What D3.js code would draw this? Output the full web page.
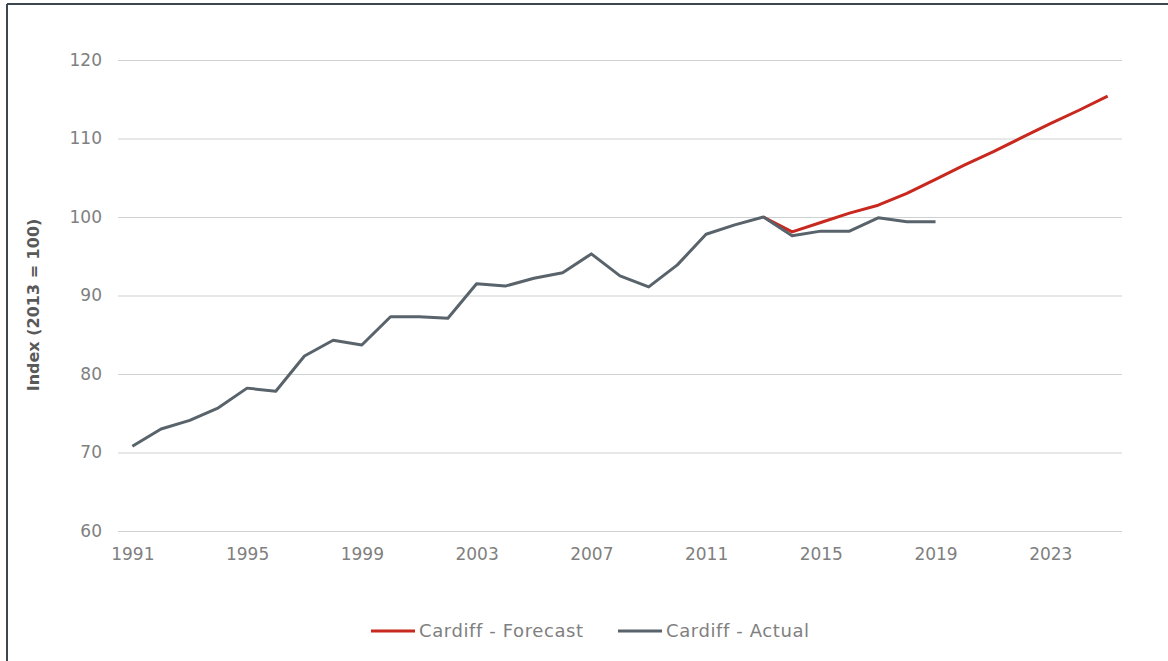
<!DOCTYPE html>
<html>
<head>
<meta charset="utf-8">
<script src="https://cdn.jsdelivr.net/npm/d3@7"></script>
<style>
    body { margin: 0; background: #fff; }
    svg { display: block; }
    .tick text { font-family: "DejaVu Sans", sans-serif; fill: #808080; }
</style>
</head>
<body>
<script>
(function(){    // wrapper

// Chart data
var years = ["1991","1992","1993","1994","1995","1996","1997","1998","1999","2000",
             "2001","2002","2003","2004","2005","2006","2007","2008","2009","2010",
             "2011","2012","2013","2014","2015","2016","2017","2018","2019","2020",
             "2021","2022","2023","2024","2025"];
var actualValues = [70.8, 73.0, 74.1, 75.7, 78.2, 77.8, 82.3, 84.3, 83.7, 87.3,
                    87.3, 87.1, 91.5, 91.2, 92.2, 92.9, 95.3, 92.5, 91.1, 93.9,
                    97.8, 99.0, 100.0, 97.6, 98.2, 98.2, 99.9, 99.4, 99.4];
var forecastYears = ["2013","2014","2015","2016","2017","2018","2019","2020","2021","2022","2023","2024","2025"];
var forecastValues = [100.0, 98.1, 99.3, 100.5, 101.5, 103.0, 104.8, 106.6, 108.3, 110.1, 111.9, 113.6, 115.4];
var yTicks = [60, 70, 80, 90, 100, 110, 120];
var xTickLabels = ["1991","1995","1999","2003","2007","2011","2015","2019","2023"];
var seriesNames = ["Cardiff - Forecast", "Cardiff - Actual"];
var seriesColors = ["#c8281e", "#59636b"];

window.onload = drawChart;

function drawChart(){
    var width = 1168, height = 661;
    var margin = {left: 118, right: 46, top: 60, bottom: 130};

    var svg = d3.select("body").append("svg")
        .attr("width", width)
        .attr("height", height);

    // frame lines (top and left)
    svg.append("line")
        .attr("x1", 7).attr("y1", 4).attr("x2", width).attr("y2", 4)
        .style("stroke", "#3d4750").style("stroke-width", 2);
    svg.append("line")
        .attr("x1", 7).attr("y1", 4).attr("x2", 7).attr("y2", height)
        .style("stroke", "#3d4750").style("stroke-width", 2);

    // scales
    var x = d3.scalePoint()
        .domain(years)
        .range([margin.left, width - margin.right])
        .padding(0.5);

    var y = d3.scaleLinear()
        .domain([60, 120])
        .range([531, margin.top]);

    // horizontal grid + y labels
    var yAxis = svg.append("g")
        .attr("transform", "translate(" + margin.left + ",0)")
        .call(d3.axisLeft(y)
            .tickValues(yTicks)
            .tickSize(-(width - margin.right - margin.left))
            .tickPadding(16));
    yAxis.select(".domain").remove();
    yAxis.selectAll(".tick line").style("stroke", "#cfd2d2").style("stroke-width", 1);
    yAxis.selectAll(".tick text").style("font-size", "17px");

    // x labels
    var xAxis = svg.append("g")
        .attr("transform", "translate(0,531)")
        .call(d3.axisBottom(x)
            .tickValues(xTickLabels)
            .tickSize(0)
            .tickPadding(17));
    xAxis.select(".domain").remove();
    xAxis.selectAll(".tick text").style("font-size", "17px");

    // y axis title
    svg.append("text")
        .attr("transform", "translate(39,305) rotate(-90)")
        .attr("text-anchor", "middle")
        .style("font-family", "'DejaVu Sans', sans-serif")
        .style("font-weight", "bold")
        .style("font-size", "16px")
        .style("fill", "#595959")
        .text("Index (2013 = 100)");

    var line = d3.line()
        .x(function(d){ return x(d[0]); })
        .y(function(d){ return y(d[1]); });

    var forecastData = forecastYears.map(function(yr, i){ return [yr, forecastValues[i]]; });
    var actualData = actualValues.map(function(v, i){ return [years[i], v]; });

    svg.append("path")
        .datum(forecastData)
        .attr("d", line)
        .style("fill", "none")
        .style("stroke", seriesColors[0])
        .style("stroke-width", 3)
        .style("stroke-linejoin", "round");

    svg.append("path")
        .datum(actualData)
        .attr("d", line)
        .style("fill", "none")
        .style("stroke", seriesColors[1])
        .style("stroke-width", 3)
        .style("stroke-linejoin", "round");

    // legend
    var legendX = [371, 618];
    var legend = svg.selectAll(".legend")
        .data(seriesNames)
        .enter()
        .append("g")
        .attr("class", "legend")
        .attr("transform", function(d, i){ return "translate(" + legendX[i] + ",631)"; });

    legend.append("line")
        .attr("x1", 0).attr("x2", 44)
        .style("stroke", function(d, i){ return seriesColors[i]; })
        .style("stroke-width", 3);

    legend.append("text")
        .attr("x", 48)
        .attr("dy", "0.35em")
        .style("font-family", "'DejaVu Sans', sans-serif")
        .style("font-size", "18px")
        .style("letter-spacing", "0.6px")
        .style("fill", "#808080")
        .text(function(d){ return d; });
};

})();
</script>
</body>
</html>
